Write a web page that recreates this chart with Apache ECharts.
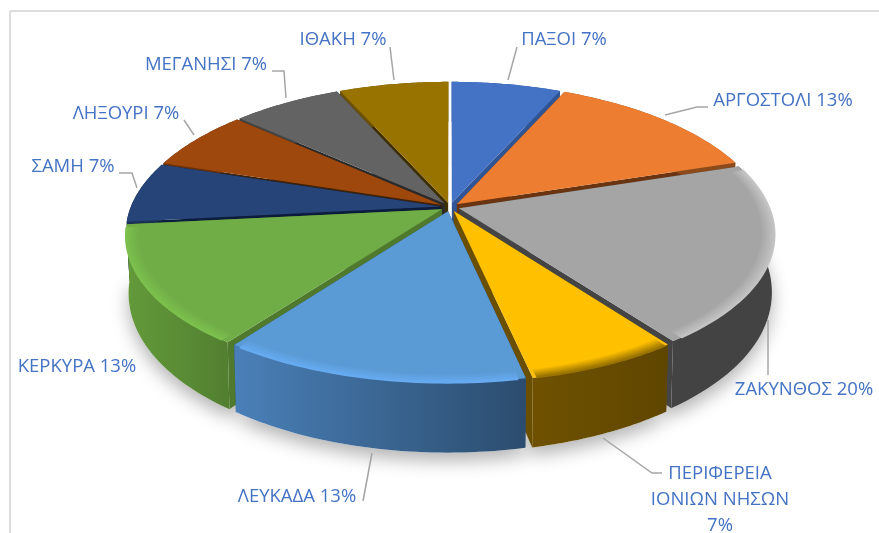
<!DOCTYPE html>
<html>
<head>
<meta charset="utf-8">
<style>html,body{margin:0;padding:0;background:#fff}#chart{width:879px;height:533px}</style>
<script src="https://cdn.jsdelivr.net/npm/echarts@6/dist/echarts.min.js"></script>
</head>
<body>
<div id="chart"></div>
<script>
var categories = ['ΠΑΞΟΙ', 'ΑΡΓΟΣΤΟΛΙ', 'ΖΑΚΥΝΘΟΣ', 'ΠΕΡΙΦΕΡΕΙΑ\nΙΟΝΙΩΝ ΝΗΣΩΝ\n', 'ΛΕΥΚΑΔΑ', 'ΚΕΡΚΥΡΑ', 'ΣΑΜΗ', 'ΛΗΞΟΥΡΙ', 'ΜΕΓΑΝΗΣΙ', 'ΙΘΑΚΗ'];
var values = [1, 2, 3, 1, 2, 2, 1, 1, 1, 1];

var topColors = ['#4472c4', '#ed7d31', '#a5a5a5', '#ffc000', '#5b9bd5', '#70ad47', '#264478', '#9e480e', '#636363', '#997300'];
var edgeColors = ['#2f5597', '#6b3410', '#444444', '#6b4f00', '#2a4a6b', '#4f7a2e', '#0c1c3c', '#3d2108', '#2b2b2b', '#3f2f00'];
var wallColors = [
	['#2f5597', '#2f5597'], ['#8a4a1c', '#8a4a1c'], ['#434343', '#434343'], ['#6f5100', '#5f4600'], ['#4a80b8', '#2b4c6e'],
	['#639a3a', '#527f30'], ['#1a3055', '#1a3055'], ['#6b3109', '#6b3109'], ['#444444', '#444444'], ['#6b5100', '#6b5100']
];
// rim band, inner colour then outer colour, only on the slices facing us
var rimColors = [null, null, ['#a5a5a5', '#c4c4c4'], ['#ffc000', '#9a7400'], ['#5b9bd5', '#66aaf0'], ['#70ad47', '#7cc04e'], null, null, null, null];

// label centre x, y and leader line, in page pixels
var labelPos = [[564, 40], [783, 101], [804, 390], [720, 500], [297, 497], [77, 367], [73, 167], [126, 114], [206, 65], [343, 40]];
var leaders = [
	[[517, 47], [508, 80]],
	[[708, 107], [697, 107], [665, 115]],
	[[768, 375], [768, 320]],
	[[662, 473], [652, 473], [603, 438]],
	[[363, 501], [372, 453]],
	null,
	[[119, 173], [132, 173], [137, 188]],
	[[184, 120], [194, 135]],
	[[272, 71], [284, 71], [286, 98]],
	[[390, 47], [394, 80]]
];

var cx = 450, cy = 207, rx = 310, ry = 142, perspX = 0.175, perspY = 0.163, explode = 0.03;
var total = values.reduce(function (a, b) { return a + b; }, 0);

function project(u, v) {
	return [cx + rx * u / (1 - perspX * v), cy + ry * v / (1 - perspY * v)];
}
function sliceAngles(i) {
	var before = 0;
	for (var k = 0; k < i; k++) before += values[k];
	return [before / total * Math.PI * 2, (before + values[i]) / total * Math.PI * 2];
}
function mixColor(a, b, t) {
	var pa = parseInt(a.slice(1), 16), pb = parseInt(b.slice(1), 16);
	var ch = function (sh) {
		return Math.round(((pa >> sh) & 255) * (1 - t) + ((pb >> sh) & 255) * t);
	};
	return 'rgb(' + ch(16) + ',' + ch(8) + ',' + ch(0) + ')';
}

// back slices are painted first
var drawOrder = values.map(function (v, i) { return i; }).sort(function (a, b) {
	var ma = sliceAngles(a), mb = sliceAngles(b);
	return -Math.cos((ma[0] + ma[1]) / 2) + Math.cos((mb[0] + mb[1]) / 2);
});

function renderSlice(params, api) {
	var i = api.value(1);
	var ang = sliceAngles(i), mid = (ang[0] + ang[1]) / 2;
	var ex = explode * Math.sin(mid), ey = -explode * Math.cos(mid);
	var pt = function (th, r) {
		return project(ex + r * Math.sin(th), ey - r * Math.cos(th));
	};
	// the bottom face sits a little further away, so it is a touch narrower
	var drop = function (p, v) { return [cx + (p[0] - cx) * 0.992, p[1] + 55 + 15 * v]; };
	var steps = 40, arc = [], low = [];
	for (var n = 0; n <= steps; n++) {
		var th = ang[0] + (ang[1] - ang[0]) * n / steps;
		var p = pt(th, 1);
		arc.push(p);
		low.push(drop(p, -Math.cos(th)));
	}
	var apex = pt(0, 0), apexLow = drop(apex, 0);
	var rank = drawOrder.indexOf(i) * 200 + 10, kids = [];
	var add = function (el) { el.z2 = rank++; el.silent = true; kids.push(el); };

	// soft shadow under the front slices
	if (rimColors[i]) {
		kids.push({ type: 'polygon', z2: 1, silent: true, shape: { points: low.concat([apexLow]) }, style: { fill: '#fff', shadowBlur: 18, shadowOffsetY: 8, shadowColor: 'rgba(0,0,0,0.3)' } });
	}
	add({ type: 'polygon', shape: { points: [apex, arc[0], low[0], apexLow] }, style: { fill: edgeColors[i] } });
	add({ type: 'polygon', shape: { points: [apex, arc[steps], low[steps], apexLow] }, style: { fill: edgeColors[i] } });
	add({
		type: 'polygon',
		shape: { points: arc.concat(low.slice().reverse()) },
		style: { fill: new echarts.graphic.LinearGradient(0, 0, 1, 0, [{ offset: 0, color: wallColors[i][0] }, { offset: 1, color: wallColors[i][1] }]) }
	});
	add({ type: 'polygon', shape: { points: [apex].concat(arc) }, style: { fill: topColors[i] } });

	// rim band, drawn as thin arcs from inner to outer
	if (rimColors[i]) {
		for (var l = 0; l <= 8; l++) {
			var r = 0.958 + 0.042 * l / 8, line = [];
			for (var m = 1; m < steps; m++) {
				var t2 = ang[0] + (ang[1] - ang[0]) * m / steps;
				if (-Math.cos(t2) > -0.3) line.push(pt(t2, r));
			}
			add({ type: 'polyline', shape: { points: line }, style: { fill: null, stroke: mixColor(rimColors[i][0], rimColors[i][1], l / 8), lineWidth: 2 } });
		}
	}

	if (leaders[i]) {
		kids.push({ type: 'polyline', z2: 9000, silent: true, shape: { points: leaders[i] }, style: { fill: null, stroke: '#a6a6a6', lineWidth: 1.5 } });
	}
	var pct = Math.round(api.value(0) / total * 100);
	kids.push({
		type: 'text', z2: 9001, silent: true,
		style: {
			x: labelPos[i][0], y: labelPos[i][1],
			text: categories[i] + (categories[i].indexOf('\n') >= 0 ? '' : ' ') + pct + '%',
			fill: '#4472c4', font: '18.5px "Open Sans"', align: 'center', verticalAlign: 'middle', lineHeight: 26
		}
	});
	return { type: 'group', children: kids };
}

var chart = echarts.init(document.getElementById('chart'));
chart.setOption({
	backgroundColor: '#ffffff',
	animation: false,
	graphic: [
		{ type: 'line', silent: true, shape: { x1: 10, y1: 11, x2: 879, y2: 11 }, style: { stroke: '#dcdcdc', lineWidth: 2 } },
		{ type: 'line', silent: true, shape: { x1: 10, y1: 11, x2: 10, y2: 533 }, style: { stroke: '#dcdcdc', lineWidth: 2 } }
	],
	series: [{
		type: 'custom',
		coordinateSystem: 'none',
		clip: false,
		renderItem: renderSlice,
		data: drawOrder.map(function (i) { return [values[i], i]; })
	}]
});
</script>
</body>
</html>
